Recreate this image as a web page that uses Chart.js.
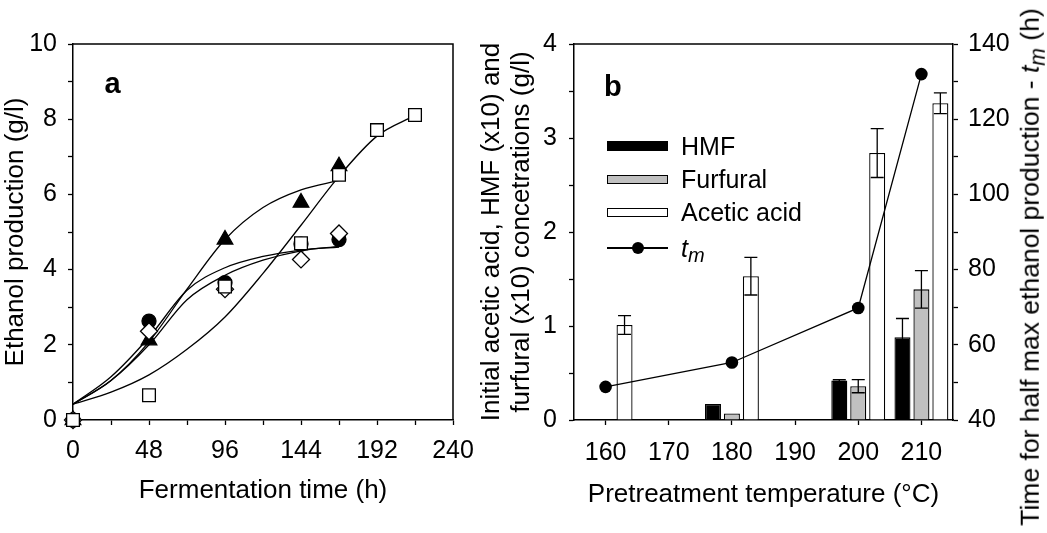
<!DOCTYPE html>
<html>
<head>
<meta charset="utf-8">
<script src="https://cdn.jsdelivr.net/npm/chart.js@4.4.0/dist/chart.umd.min.js"></script>
<style>
html,body{margin:0;padding:0;background:#fff;}
#wrap{position:relative;width:1047px;height:533px;overflow:hidden;font-family:"Liberation Sans",Arial,sans-serif;color:#000;}
#wrap canvas{position:absolute;left:0;top:0;}
.panel{position:absolute;font-weight:bold;font-size:29px;line-height:1;}
.ltxt{position:absolute;font-size:25px;line-height:1;white-space:nowrap;}
.sub{font-size:0.8em;position:relative;top:0.28em;}
#rtitle{position:absolute;left:1030px;top:267px;transform:translate(-50%,-50%) rotate(-90deg);font-size:26.5px;line-height:1;white-space:nowrap;}
</style>
</head>
<body>
<div id="wrap">
  <canvas id="ca" width="1047" height="533"></canvas>
  <canvas id="cb" width="1047" height="533"></canvas>
  <div class="panel" style="left:104.5px;top:68.8px">a</div>
  <div class="panel" style="left:604px;top:71.5px">b</div>
  <div id="legend"></div>
  <div id="rtitle">Time for half max ethanol production - <i>t</i><i class="sub">m</i> (h)</div>
</div>
<script>
// ---------- Panel a data ----------
const timeSquare   = [0, 48, 96, 144, 168, 192, 216];
const ethSquare    = [0, 0.66, 3.55, 4.70, 6.52, 7.71, 8.11];
const timeOther    = [0, 48, 96, 144, 168];
const ethTriangle  = [0, 2.12, 4.80, 5.78, 6.75];
const ethCircle    = [0, 2.63, 3.65, 4.68, 4.80];
const ethDiamond   = [0, 2.36, 3.48, 4.27, 4.96];
const fitTime       = [0, 24, 48, 72, 96, 120, 144, 168];
const fitTimeSquare = [0, 24, 48, 72, 96, 120, 144, 168, 192, 216];
const fitTriangle  = [0.42, 1.05, 2.08, 3.48, 4.80, 5.65, 6.12, 6.37];
const fitCircle    = [0.42, 1.15, 2.20, 3.45, 4.05, 4.35, 4.52, 4.60];
const fitDiamond   = [0.42, 1.05, 2.00, 3.20, 3.85, 4.25, 4.50, 4.62];
const fitSquare    = [0.42, 0.74, 1.20, 1.88, 2.74, 3.90, 5.18, 6.48, 7.55, 8.10];
const timeTicks  = [0, 24, 48, 72, 96, 120, 144, 168, 192, 216, 240];
const timeLabels = [0, 48, 96, 144, 192, 240];
const ethTicks   = [0, 1, 2, 3, 4, 5, 6, 7, 8, 9, 10];
const ethLabels  = [0, 2, 4, 6, 8, 10];

// ---------- Panel b data ----------
const temps       = [160, 180, 200, 210];
const hmf         = [null, 0.17, 0.42, 0.88];
const hmfErr      = [0, 0, 0.01, 0.20];
const furfural    = [null, 0.07, 0.36, 1.39];
const furfuralErr = [0, 0, 0.07, 0.20];
const acetic      = [1.01, 1.53, 2.84, 3.37];
const aceticErr   = [0.10, 0.20, 0.26, 0.11];
const tm          = [48.8, 55.3, 69.8, 132.0];
const tempTicks   = [160, 170, 180, 190, 200, 210];
const concTicks   = [0, 0.5, 1, 1.5, 2, 2.5, 3, 3.5, 4];
const concLabels  = [0, 1, 2, 3, 4];
const tmTicks     = [40, 50, 60, 70, 80, 90, 100, 110, 120, 130, 140];
const tmLabels    = [40, 60, 80, 100, 120, 140];

Chart.defaults.font.family = "'Liberation Sans', Arial, sans-serif";
Chart.defaults.font.size = 25;
Chart.defaults.color = '#000';

const pts = (xs, ys) => xs.map((x, i) => ({x: x, y: ys[i]}));
const setTicks = arr => s => { s.ticks = arr.map(v => ({value: v})); };
const labelIf = arr => v => (arr.includes(v) ? String(v) : '');

const framePlugin = {
  id: 'frame',
  beforeDatasetsDraw(chart, args, opts) {
    const {ctx, chartArea: a} = chart;
    ctx.save();
    ctx.strokeStyle = '#000';
    ctx.lineWidth = 1.5;
    ctx.beginPath();
    ctx.moveTo(a.left, a.top);
    ctx.lineTo(a.right, a.top);
    if (opts.right) ctx.lineTo(a.right, a.bottom);
    ctx.stroke();
    ctx.restore();
  }
};

const errorBarPlugin = {
  id: 'errorBars',
  afterDatasetsDraw(chart) {
    const ctx = chart.ctx;
    chart.data.datasets.forEach((ds, di) => {
      if (!ds.errors) return;
      const meta = chart.getDatasetMeta(di);
      const yS = chart.scales[meta.yAxisID];
      meta.data.forEach((bar, i) => {
        const v = ds.data[i].y, e = ds.errors[i];
        if (v === null || !e) return;
        const x = bar.x, y1 = yS.getPixelForValue(v + e), y2 = yS.getPixelForValue(v - e);
        ctx.save();
        ctx.strokeStyle = '#000';
        ctx.lineWidth = 1.3;
        ctx.beginPath();
        ctx.moveTo(x, y1); ctx.lineTo(x, y2);
        ctx.moveTo(x - 6.5, y1); ctx.lineTo(x + 6.5, y1);
        ctx.moveTo(x - 6.5, y2); ctx.lineTo(x + 6.5, y2);
        ctx.stroke();
        ctx.restore();
      });
    });
  }
};

const axisCommon = {
  grid: {drawOnChartArea: false, drawTicks: true, tickLength: 5, tickWidth: 1.3, tickColor: '#000', color: '#000', offset: false},
  border: {display: true, color: '#000', width: 1.5}
};

const marker = (label, xs, ys, style, r, fill, order) => ({
  label, data: pts(xs, ys), showLine: false, clip: false, order,
  pointStyle: style, pointRadius: r, pointHoverRadius: r,
  pointBackgroundColor: fill, pointBorderColor: '#000', pointBorderWidth: 1.3
});
const curve = (label, xs, ys) => ({
  label, data: pts(xs, ys), pointRadius: 0, borderColor: '#000', borderWidth: 1.3,
  cubicInterpolationMode: 'monotone', fill: false, order: 10
});

new Chart(document.getElementById('ca'), {
  type: 'line',
  data: {
    datasets: [
      marker('Square', timeSquare, ethSquare, 'rect', 9, '#fff', 0),
      marker('Diamond', timeOther, ethDiamond, 'rectRot', 8.5, '#fff', 1),
      marker('Triangle', timeOther, ethTriangle, 'triangle', 9, '#000', 2),
      marker('Circle', timeOther, ethCircle, 'circle', 7, '#000', 3),
      curve('Fit triangle', fitTime, fitTriangle),
      curve('Fit circle', fitTime, fitCircle),
      curve('Fit diamond', fitTime, fitDiamond),
      curve('Fit square', fitTimeSquare, fitSquare)
    ]
  },
  options: {
    responsive: false, animation: false, events: [],
    layout: {padding: {left: 0, top: 44, right: 594, bottom: 0}},
    plugins: {legend: {display: false}, tooltip: {enabled: false}, frame: {right: true}},
    scales: {
      x: Object.assign({}, axisCommon, {
        type: 'linear', min: 0, max: 240, offset: false,
        afterBuildTicks: setTicks(timeTicks),
        afterFit: s => { s.height = 113; },
        ticks: {autoSkip: false, maxRotation: 0, padding: 11.5, callback: labelIf(timeLabels)},
        title: {display: true, text: 'Fermentation time (h)', font: {size: 26}, padding: {top: 0, bottom: 26.7}}
      }),
      y: Object.assign({}, axisCommon, {
        type: 'linear', min: 0, max: 10,
        afterBuildTicks: setTicks(ethTicks),
        afterFit: s => { s.width = 73; },
        ticks: {autoSkip: false, padding: 11, callback: labelIf(ethLabels)},
        title: {display: true, text: 'Ethanol production (g/l)', font: {size: 26}, padding: {top: 0, bottom: 0}}
      })
    }
  },
  plugins: [framePlugin]
});

const chartB = new Chart(document.getElementById('cb'), {
  type: 'bar',
  data: {
    datasets: [
      {type: 'line', label: 'tm', data: pts(temps, tm), yAxisID: 'y2', order: 0, clip: false,
       borderColor: '#000', borderWidth: 1.3, tension: 0,
       pointRadius: 6.3, pointHoverRadius: 6.3, pointBackgroundColor: '#000', pointBorderColor: '#000', pointBorderWidth: 0},
      {label: 'HMF', data: pts(temps, hmf), errors: hmfErr, yAxisID: 'y', order: 1,
       backgroundColor: '#000', borderColor: '#000', borderWidth: 1.3},
      {label: 'Furfural', data: pts(temps, furfural), errors: furfuralErr, yAxisID: 'y', order: 2,
       backgroundColor: '#c0c0c0', borderColor: '#000', borderWidth: 1.3},
      {label: 'Acetic acid', data: pts(temps, acetic), errors: aceticErr, yAxisID: 'y', order: 3,
       backgroundColor: '#ffffff', borderColor: '#000', borderWidth: 1.3}
    ]
  },
  options: {
    responsive: false, animation: false, events: [],
    datasets: {bar: {categoryPercentage: 0.9, barPercentage: 0.845}},
    layout: {padding: {left: 470, top: 44, right: 0, bottom: 0}},
    plugins: {legend: {display: false}, tooltip: {enabled: false}, frame: {right: false}},
    scales: {
      x: Object.assign({}, axisCommon, {
        type: 'linear', min: 155, max: 215, offset: false,
        afterBuildTicks: setTicks(tempTicks),
        afterFit: s => { s.height = 113; },
        ticks: {autoSkip: false, maxRotation: 0, padding: 13, callback: v => String(v)},
        title: {display: true, text: 'Pretreatment temperature (\u00B0C)', font: {size: 26}, padding: {top: 0, bottom: 22.7}}
      }),
      y: Object.assign({}, axisCommon, {
        type: 'linear', position: 'left', min: 0, max: 4,
        afterBuildTicks: setTicks(concTicks),
        afterFit: s => { s.width = 104; },
        ticks: {autoSkip: false, padding: 12, callback: labelIf(concLabels)},
        title: {display: true, text: ['Initial acetic acid, HMF (x10) and', 'furfural (x10) concetrations (g/l)'],
                font: {size: 26, lineHeight: 1.15}, padding: {top: 7, bottom: 0}}
      }),
      y2: Object.assign({}, axisCommon, {
        type: 'linear', position: 'right', min: 40, max: 140,
        afterBuildTicks: setTicks(tmTicks),
        afterFit: s => { s.width = 94; },
        ticks: {autoSkip: false, padding: 10, callback: labelIf(tmLabels)}
      })
    }
  },
  plugins: [framePlugin, errorBarPlugin]
});

// ---------- HTML legend for panel b (built from the chart's datasets) ----------
(function buildLegend() {
  const legend = document.getElementById('legend');
  const ds = chartB.data.datasets;
  const items = [ds[1], ds[2], ds[3], ds[0]];
  const rowY = [146, 179.4, 212.6, 248];
  items.forEach((d, i) => {
    const cy = rowY[i];
    if (d.type === 'line') {
      const ln = document.createElement('div');
      ln.style.cssText = `position:absolute;left:607px;top:${cy - 0.65}px;width:61px;height:1.3px;background:${d.borderColor};`;
      legend.appendChild(ln);
      const dot = document.createElement('div');
      const r = d.pointRadius;
      dot.style.cssText = `position:absolute;left:${638 - r}px;top:${cy - r}px;width:${2 * r}px;height:${2 * r}px;border-radius:50%;background:${d.pointBackgroundColor};`;
      legend.appendChild(dot);
      const t = document.createElement('div');
      t.className = 'ltxt';
      t.style.left = '681px';
      t.style.top = (cy + 8.7 - 21.2) + 'px';
      t.innerHTML = '<i>t</i><i class="sub">m</i>';
      legend.appendChild(t);
    } else {
      const sw = document.createElement('div');
      sw.style.cssText = `position:absolute;left:607px;top:${cy - 4.75}px;width:61px;height:9.5px;box-sizing:border-box;background:${d.backgroundColor};border:1.3px solid ${d.borderColor};`;
      legend.appendChild(sw);
      const t = document.createElement('div');
      t.className = 'ltxt';
      t.style.left = '681px';
      t.style.top = (cy - 12.2) + 'px';
      t.textContent = d.label;
      legend.appendChild(t);
    }
  });
})();
</script>
</body>
</html>
